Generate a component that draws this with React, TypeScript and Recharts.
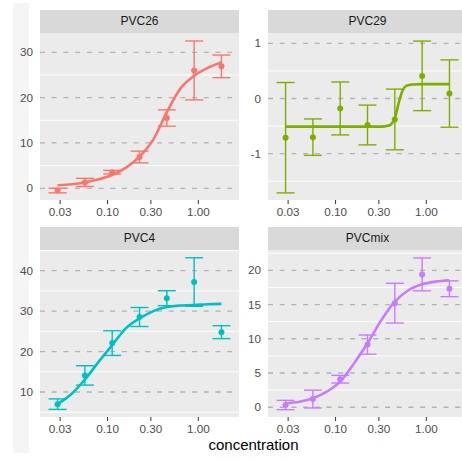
import { ComposedChart, ErrorBar, Line, ReferenceLine, Scatter, XAxis, YAxis } from 'recharts';

const concentrations = [0.028125, 0.05625, 0.1125, 0.225, 0.45, 0.9, 1.8];
const curveConc = [0.028125, 0.04, 0.05625, 0.08, 0.1125, 0.16, 0.225, 0.32, 0.45, 0.64, 0.9, 1.27, 1.8];
const pvc29CurveConc = [0.028125, 0.1, 0.2, 0.3, 0.36, 0.4, 0.43, 0.46, 0.5, 0.55, 0.6, 0.7, 0.9, 1.8];
const xTicks = [0.03, 0.1, 0.3, 1];

const pvc26Mean = [-0.5, 1.3, 3.55, 6.9, 15.5, 26.0, 26.9];
const pvc26Err = [0.5, 0.9, 0.4, 1.3, 1.8, 6.5, 2.5];
const pvc26Curve = [0.66, 0.88, 1.3, 1.98, 2.94, 4.55, 6.98, 10.8, 16.8, 22.1, 24.8, 26.55, 27.8];

const pvc29Mean = [-0.71, -0.7, -0.18, -0.48, -0.38, 0.41, 0.09];
const pvc29Err = [1.0, 0.33, 0.48, 0.36, 0.55, 0.63, 0.61];
const pvc29Curve = [-0.51, -0.51, -0.51, -0.51, -0.5, -0.48, -0.42, -0.3, -0.06, 0.15, 0.23, 0.255, 0.26, 0.26];

const pvc4Mean = [7.0, 14.1, 22.1, 28.55, 33.2, 37.2, 24.8];
const pvc4Err = [1.3, 2.4, 3.05, 2.35, 1.85, 6.0, 1.6];
const pvc4Curve = [7.0, 9.5, 13.1, 17.5, 21.6, 25.8, 28.2, 30.0, 31.0, 31.4, 31.5, 31.7, 31.8];

const pvcmixMean = [0.33, 1.2, 4.1, 9.15, 15.2, 19.4, 17.3];
const pvcmixErr = [0.68, 1.3, 0.56, 1.4, 2.9, 2.4, 1.15];
const pvcmixCurve = [0.58, 0.82, 1.31, 2.28, 3.74, 6.42, 9.34, 12.74, 15.42, 17.12, 17.96, 18.34, 18.54];

const font = '"Liberation Sans", Arial, sans-serif';
const PANEL_W = 199;
const PLOT_H = 167;
const STRIP_H = 23;

type PanelProps = {
  left: number;
  top: number;
  title: string;
  color: string;
  means: number[];
  errs: number[];
  curveX: number[];
  curve: number[];
  domain: [number, number];
  ticks: number[];
  minor: number[];
};

const Panel = ({ left, top, title, color, means, errs, curveX, curve, domain, ticks, minor }: PanelProps) => {
  const points = concentrations.map((c, i) => ({ conc: c, val: means[i], err: errs[i] }));
  const line = curveX.map((c, i) => ({ conc: c, val: curve[i] }));

  return (
    <>
      <div
        style={{
          position: 'absolute', left, top, width: PANEL_W, height: STRIP_H, background: '#d9d9d9',
          color: '#1a1a1a', fontSize: 12, lineHeight: `${STRIP_H}px`, textAlign: 'center', fontFamily: font,
        }}
      >
        {title}
      </div>
      <div style={{ position: 'absolute', left, top: top + STRIP_H, width: PANEL_W, height: PLOT_H, background: '#ebebeb' }} />
      <div style={{ position: 'absolute', left: left - 40, top: top + STRIP_H }}>
        <ComposedChart width={40 + PANEL_W} height={PLOT_H + 23} margin={{ top: 0, right: 0, bottom: 0, left: 0 }}>
          {minor.map((v) => (
            <ReferenceLine key={`m${v}`} y={v} stroke="#ffffff" strokeWidth={1} />
          ))}
          {ticks.map((v) => (
            <ReferenceLine key={`t${v}`} y={v} stroke="#b3b3b3" strokeDasharray="5 6.7" strokeWidth={1.3} />
          ))}
          <XAxis
            dataKey="conc"
            type="number"
            scale="log"
            domain={[0.018, 2.81]}
            allowDataOverflow
            ticks={xTicks}
            interval={0}
            tickFormatter={(v: number) => v.toFixed(2)}
            height={23}
            tickSize={4}
            tickMargin={4}
            axisLine={false}
            tickLine={{ stroke: '#333333' }}
            tick={{ fill: '#4d4d4d', fontSize: 11.7, fontFamily: font }}
          />
          <YAxis
            type="number"
            domain={domain}
            allowDataOverflow
            ticks={ticks}
            interval={0}
            width={40}
            tickSize={5}
            tickMargin={2}
            axisLine={false}
            tickLine={false}
            tick={{ fill: '#4d4d4d', fontSize: 11.7, fontFamily: font }}
          />
          <Scatter
            data={points}
            dataKey="val"
            fill={color}
            isAnimationActive={false}
            shape={(p: any) => <circle cx={p.cx} cy={p.cy} r={3} fill={color} />}
          >
            <ErrorBar dataKey="err" direction="y" width={9} stroke={color} strokeWidth={1.4} />
          </Scatter>
          <Line
            data={line}
            dataKey="val"
            type="monotone"
            stroke={color}
            strokeWidth={2.6}
            dot={false}
            isAnimationActive={false}
          />
        </ComposedChart>
      </div>
    </>
  );
};

export default function App() {
  return (
    <div style={{ position: 'fixed', left: 0, top: 0, width: 462, height: 462, overflow: 'hidden', background: '#ffffff' }}>
      <div style={{ position: 'absolute', left: 13, top: 3, width: 16, height: 450, background: '#f5f5f5' }} />
      <Panel left={40} top={10} title="PVC26" color="#F8766D" means={pvc26Mean} errs={pvc26Err}
        curveX={curveConc} curve={pvc26Curve} domain={[-2.58, 34.26]} ticks={[0, 10, 20, 30]} minor={[5, 15, 25]} />
      <Panel left={268} top={10} title="PVC29" color="#7CAE00" means={pvc29Mean} errs={pvc29Err}
        curveX={pvc29CurveConc} curve={pvc29Curve} domain={[-1.839, 1.187]} ticks={[-1, 0, 1]} minor={[-1.5, -0.5, 0.5]} />
      <Panel left={40} top={227} title="PVC4" color="#00BFC4" means={pvc4Mean} errs={pvc4Err}
        curveX={curveConc} curve={pvc4Curve} domain={[3.82, 45.12]} ticks={[10, 20, 30, 40]} minor={[5, 15, 25, 35, 45]} />
      <Panel left={268} top={227} title="PVCmix" color="#C77CFF" means={pvcmixMean} errs={pvcmixErr}
        curveX={curveConc} curve={pvcmixCurve} domain={[-1.42, 22.96]} ticks={[0, 5, 10, 15, 20]} minor={[2.5, 7.5, 12.5, 17.5, 22.5]} />
      <div style={{ position: 'absolute', left: 153.5, top: 437, width: 200, textAlign: 'center', fontSize: 15, lineHeight: '16px', fontFamily: font, color: '#000000' }}>
        concentration
      </div>
    </div>
  );
}
